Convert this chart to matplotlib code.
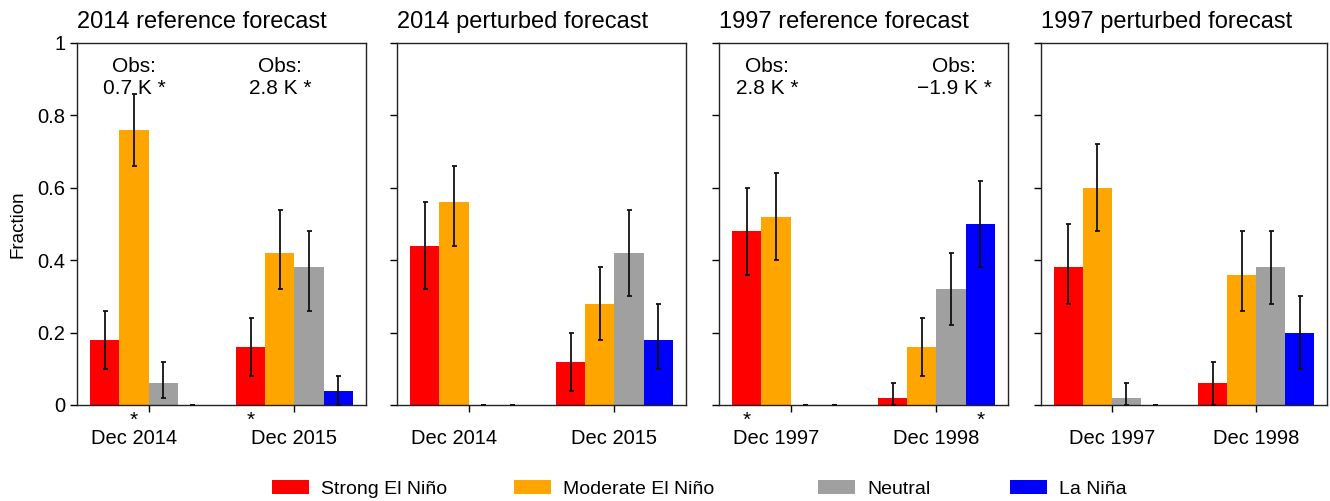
import matplotlib.pyplot as plt
from matplotlib.patches import Patch
import matplotlib.transforms as mtransforms

plt.rcParams['font.family'] = ['Liberation Sans', 'DejaVu Sans']

categories = ['Strong El Niño', 'Moderate El Niño', 'Neutral', 'La Niña']
colors = ['#ff0000', '#ffa500', '#a0a0a0', '#0000ff']

titles = ['2014 reference forecast', '2014 perturbed forecast',
          '1997 reference forecast', '1997 perturbed forecast']
months = [['Dec 2014', 'Dec 2015'], ['Dec 2014', 'Dec 2015'],
          ['Dec 1997', 'Dec 1998'], ['Dec 1997', 'Dec 1998']]

# values: first month (4 categories) then second month (4 categories)
ref14 = [0.18, 0.76, 0.06, 0.00, 0.16, 0.42, 0.38, 0.04]
ref14_lo = [0.10, 0.66, 0.02, 0.00, 0.08, 0.32, 0.26, 0.00]
ref14_hi = [0.26, 0.86, 0.12, 0.00, 0.24, 0.54, 0.48, 0.08]

pert14 = [0.44, 0.56, 0.00, 0.00, 0.12, 0.28, 0.42, 0.18]
pert14_lo = [0.32, 0.44, 0.00, 0.00, 0.04, 0.18, 0.30, 0.10]
pert14_hi = [0.56, 0.66, 0.00, 0.00, 0.20, 0.38, 0.54, 0.28]

ref97 = [0.48, 0.52, 0.00, 0.00, 0.02, 0.16, 0.32, 0.50]
ref97_lo = [0.36, 0.40, 0.00, 0.00, 0.00, 0.08, 0.22, 0.38]
ref97_hi = [0.60, 0.64, 0.00, 0.00, 0.06, 0.24, 0.42, 0.62]

pert97 = [0.38, 0.60, 0.02, 0.00, 0.06, 0.36, 0.38, 0.20]
pert97_lo = [0.28, 0.48, 0.00, 0.00, 0.00, 0.26, 0.28, 0.10]
pert97_hi = [0.50, 0.72, 0.06, 0.00, 0.12, 0.48, 0.48, 0.30]

panels = [(ref14, ref14_lo, ref14_hi), (pert14, pert14_lo, pert14_hi),
          (ref97, ref97_lo, ref97_hi), (pert97, pert97_lo, pert97_hi)]

# observed category (index into the 8 bars) marked with a star
obs_star = [[1, 4], [], [0, 7], []]
obs_text = [[(1.5, 'Obs:\n0.7 K *'), (6.5, 'Obs:\n2.8 K *')], [],
            [(1.2, 'Obs:\n2.8 K *'), (7.6, 'Obs:\n\u22121.9 K *')], []]

xpos = [0.5, 1.5, 2.5, 3.5, 5.5, 6.5, 7.5, 8.5]
label_x = [[1.5, 7], [1.5, 7], [1.5, 7], [2, 7]]

W, H = 1330, 501
fig = plt.figure(figsize=(W / 100, H / 100), dpi=100)
lefts = [77, 397, 719, 1041]
widths = [289, 289, 289, 286]
top, bottom = 43, 405

for i, (vals, lo, hi) in enumerate(panels):
    ax = fig.add_axes([lefts[i] / W, 1 - bottom / H, widths[i] / W, (bottom - top) / H])
    ax.bar(xpos, vals, width=1.0, color=colors * 2, zorder=2)
    yerr = [[v - l for v, l in zip(vals, lo)], [h - v for v, h in zip(vals, hi)]]
    ax.errorbar(xpos, vals, yerr=yerr, fmt='none', ecolor='#111111',
                elinewidth=1.3, capsize=1.8, capthick=1.3, zorder=3)
    ax.set_xlim(-0.45, 9.45)
    ax.set_ylim(0, 1)
    ax.set_yticks([0, 0.2, 0.4, 0.6, 0.8, 1])
    if i == 0:
        ax.set_yticklabels(['0', '0.2', '0.4', '0.6', '0.8', '1'], fontsize=14.5)
        ax.set_ylabel('Fraction', fontsize=13.5, labelpad=8)
    else:
        ax.set_yticklabels([])
    ax.xaxis.remove_overlapping_locs = False
    ax.set_xticks([2, 7])
    ax.set_xticklabels([])
    ax.set_xticks(label_x[i], months[i], minor=True)
    ax.tick_params(axis='x', which='minor', length=0, pad=17, labelsize=14.5)
    ax.tick_params(axis='both', which='major', direction='out', length=5, width=1)
    for s in ax.spines.values():
        s.set_linewidth(1.0)
        s.set_color('#222222')
    ax.set_title(titles[i], loc='left', fontsize=17, pad=11)

    trans = mtransforms.blended_transform_factory(ax.transData, ax.transAxes)
    for k in obs_star[i]:
        ax.text(xpos[k], -0.017, '*', transform=trans, ha='center', va='top',
                fontsize=15)
    for x, t in obs_text[i]:
        ax.text(x, 0.905, t, ha='center', va='center', fontsize=15,
                linespacing=1.25, zorder=4)

# one legend entry per category, placed where the reference puts them
legend_x = [272, 514, 818, 1010]
for c, l, lx in zip(colors, categories, legend_x):
    fig.legend(handles=[Patch(facecolor=c, label=l)], loc='center left',
               bbox_to_anchor=(lx / W, 1 - 489 / H), frameon=False, fontsize=14,
               handlelength=1.9, handleheight=0.69, handletextpad=0.62,
               borderpad=0, borderaxespad=0)

fig.savefig('out.png', dpi=100)
